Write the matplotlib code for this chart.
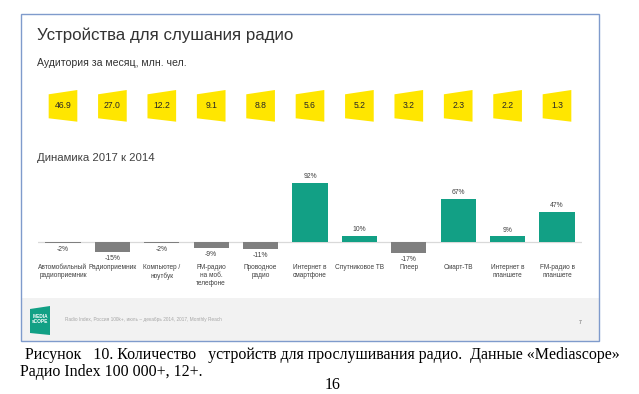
import numpy as np
import matplotlib
matplotlib.use("Agg")
import matplotlib.pyplot as plt
from matplotlib.patches import Polygon, Rectangle

devices = ["Автомобильный\nрадиоприемник", "Радиоприемник", "Компьютер /\nноутбук",
           "FM-радио\nна моб.\nтелефоне", "Проводное\nрадио", "Интернет в\nсмартфоне",
           "Спутниковое ТВ", "Плеер", "Смарт-ТВ", "Интернет в\nпланшете",
           "FM-радио в\nпланшете"]
audience = [46.9, 27.0, 12.2, 9.1, 8.8, 5.6, 5.2, 3.2, 2.3, 2.2, 1.3]
change = [-2, -15, -2, -9, -11, 92, 10, -17, 67, 9, 47]

W, H = 639, 394
plt.rcParams['font.family'] = ['Liberation Sans', 'DejaVu Sans']

fig = plt.figure(figsize=(W / 100, H / 100), dpi=100)
fig.patch.set_facecolor("white")


def fx(px):
    return px / W


def fy(py):
    return 1 - py / H


# slide background, footer band and frame
bg = fig.add_axes([0, 0, 1, 1], zorder=0)
bg.set_xlim(0, W)
bg.set_ylim(H, 0)
bg.axis("off")
bg.add_patch(Rectangle((21, 298), 578, 43, facecolor="#f2f2f2", edgecolor="none"))
bg.add_patch(Rectangle((21, 14), 578, 327, facecolor="none", edgecolor="#7f9bcc", lw=1.0))
bg.add_patch(Polygon([(30, 309), (50, 306), (50, 335), (30, 333)], closed=True,
                     facecolor="#12a085", edgecolor="none"))
bg.text(40, 319, "MEDIA\nsCOPE", color="white", fontsize=3.4, ha="center", va="center",
        fontweight="bold", linespacing=0.9)
bg.text(65, 320, "Radio Index, Россия 100k+, июль – декабрь 2014, 2017, Monthly Reach",
        color="#a6a6a6", fontsize=3.4, ha="left", va="center")
bg.text(580, 323, "7", color="#595959", fontsize=3.6, ha="center", va="center")

bg.text(37, 35, "Устройства для слушания радио", fontsize=12.2, color="#333333",
        ha="left", va="center")
bg.text(37, 63, "Аудитория за месяц, млн. чел.", fontsize=7.6, color="#333333",
        ha="left", va="center")
bg.text(37, 158, "Динамика 2017 к 2014", fontsize=8.2, color="#404040",
        ha="left", va="center")

cap = ["Liberation Serif", "DejaVu Serif"]
bg.text(21, 355, " Рисунок   10. Количество   устройств для прослушивания радио.  Данные «Mediascope»",
        fontsize=11.5, family=cap, ha="left", va="center", color="black")
bg.text(20, 372, "Радио Index 100 000+, 12+.", fontsize=11.5, family=cap,
        ha="left", va="center", color="black")
bg.text(333, 393, "16", fontsize=11.5, family=cap, ha="center", va="bottom", color="black")

x = np.arange(len(devices))

# yellow audience boxes
top = fig.add_axes([fx(38.3), fy(127), fx(581.7) - fx(38.3), fy(85) - fy(127)], zorder=1)
top.set_xlim(-0.5, len(devices) - 0.5)
top.set_ylim(127, 85)
top.axis("off")
hw = 0.29
for i, v in zip(x, audience):
    top.add_patch(Polygon([(i - hw, 94.3), (i + hw, 90), (i + hw, 121.7), (i - hw, 118.3)],
                          closed=True, facecolor="#ffe600", edgecolor="none"))
    top.text(i, 106, f"{v:.1f}", fontsize=6.2, ha="center", va="center", color="#262626")

# change bars
ax = fig.add_axes([fx(38.3), fy(261.2), fx(581.7) - fx(38.3), fy(177.9) - fy(261.2)], zorder=1)
colors = ["#12a085" if c > 0 else "#7f7f7f" for c in change]
ax.bar(x, change, width=0.71, color=colors, zorder=2)
ax.axhline(0, color="#d9d9d9", lw=0.9, zorder=1)
ax.set_xlim(-0.5, len(devices) - 0.5)
ax.set_ylim(-30, 100)
ax.axis("off")
for i, c in zip(x, change):
    off = 4.4 if c > 0 else -4.8
    ax.annotate(f"{c}%", (i, c), xytext=(0, off), textcoords="offset points",
                ha="center", va="center", fontsize=4.9, color="#404040")
for i, name in zip(x, devices):
    bg.text(63 + 49.4 * i, 264, name, fontsize=4.7, ha="center", va="top",
            color="#404040", linespacing=1.2)

fig.savefig("out.png", dpi=100)
